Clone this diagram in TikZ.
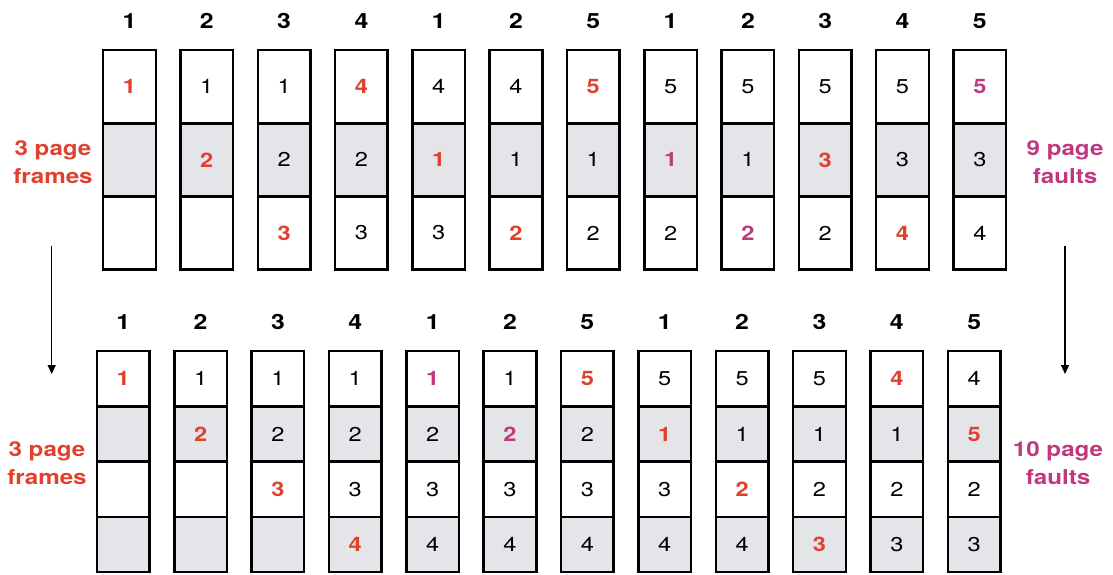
\documentclass[tikz,border=0pt]{standalone}
\usepackage{fontspec}
\setmainfont{TeX Gyre Heros}[FakeStretch=1.18]
\usetikzlibrary{arrows.meta}
\definecolor{fred}{HTML}{E0402C}
\definecolor{fmag}{HTML}{C0387E}
\definecolor{cellgray}{HTML}{E4E5E8}
\newcommand\R[1]{\textcolor{fred}{\bfseries #1}}
\newcommand\M[1]{\textcolor{fmag}{\bfseries #1}}
\tikzset{
  cellbox/.style={draw=black, line width=2.5pt, minimum width=52.6pt, inner sep=0pt,
    font=\fontsize{20}{20}\selectfont},
  topcell/.style={cellbox, minimum height=73.1pt},
  botcell/.style={cellbox, minimum height=55.2pt},
  shade/.style={fill=cellgray},
  hdr/.style={font=\fontsize{21}{21}\selectfont\bfseries, inner sep=0pt},
  lbl/.style={font=\fontsize{20.5}{28}\selectfont\bfseries, align=center, inner sep=0pt},
  arr/.style={line width=1.3pt, -{Triangle[length=9pt,width=8pt]}}
}
\begin{document}
\begin{tikzpicture}[x=1pt,y=-1pt]
\useasboundingbox (0,0) rectangle (1113,575);
% top sequence: 3 frames
\foreach \h/\a/\b/\c [count=\i from 0] in {
  1/\R1/{}/{}, 2/1/\R2/{}, 3/1/2/\R3, 4/\R4/2/3, 1/4/\R1/3, 2/4/1/\R2,
  5/\R5/1/2, 1/5/\M1/2, 2/5/1/\M2, 3/5/\R3/2, 4/5/3/\R4, 5/\M5/3/4}{
  \pgfmathsetmacro\cx{129.5+77.3*\i}
  \node[hdr] (ht\i) at (\cx,20.7) {\h};
  \node[topcell] (t\i-1) at (\cx,86.75) {\a};
  \node[topcell,shade] (t\i-2) at (\cx,159.85) {\b};
  \node[topcell] (t\i-3) at (\cx,232.95) {\c};
}
% bottom sequence: 4 frames
\foreach \h/\a/\b/\c/\d [count=\i from 0] in {
  1/\R1/{}/{}/{}, 2/1/\R2/{}/{}, 3/1/2/\R3/{}, 4/1/2/3/\R4, 1/\M1/2/3/4, 2/1/\M2/3/4,
  5/\R5/2/3/4, 1/5/\R1/3/4, 2/5/1/\R2/4, 3/5/1/2/\R3, 4/\R4/1/2/3, 5/4/\R5/2/3}{
  \pgfmathsetmacro\cx{123.2+77.36*\i}
  \node[hdr] (hb\i) at (\cx,321.7) {\h};
  \node[botcell] (b\i-1) at (\cx,378.8) {\a};
  \node[botcell,shade] (b\i-2) at (\cx,434.0) {\b};
  \node[botcell] (b\i-3) at (\cx,489.2) {\c};
  \node[botcell,shade] (b\i-4) at (\cx,544.4) {\d};
}
% side labels
\node[lbl,text=fred] (lt) at (53,162) {3 page\\frames};
\node[lbl,text=fmag] (rt) at (1065,162) {9 page\\faults};
\node[lbl,text=fred] (lb) at (47,463) {3 page\\frames};
\node[lbl,text=fmag] (rb) at (1058,463) {10 page\\faults};
% arrows
\coordinate (la1) at (51.7,246);
\coordinate (la2) at (51.7,374);
\coordinate (ra1) at (1065,246);
\coordinate (ra2) at (1065,374);
\draw[arr] (la1) -- (la2);
\draw[arr] (ra1) -- (ra2);
\end{tikzpicture}
\end{document}
